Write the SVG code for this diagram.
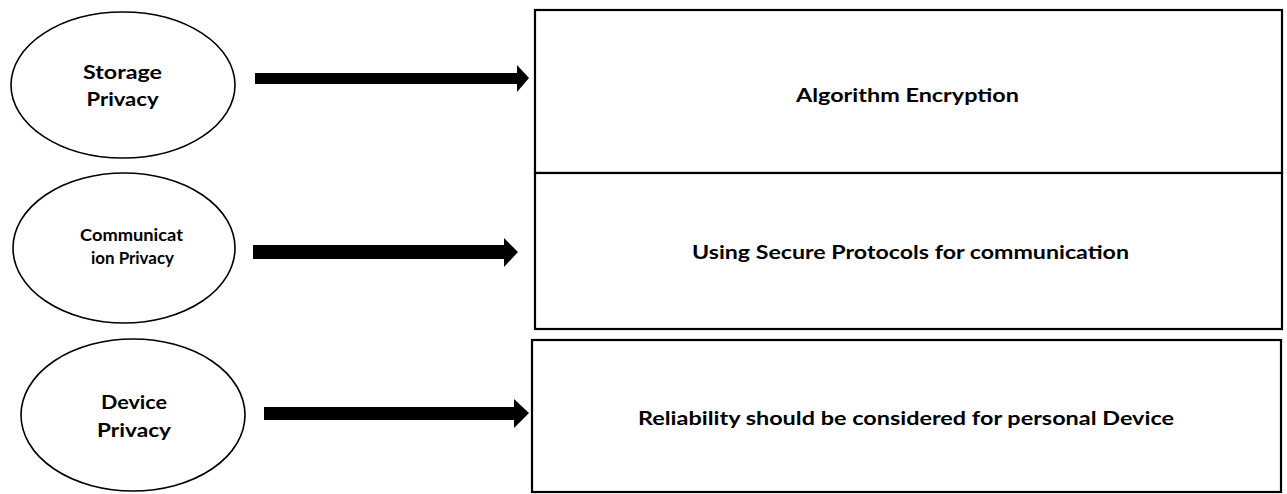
<svg xmlns="http://www.w3.org/2000/svg" width="1287" height="494" viewBox="0 0 1287 494">
<style>
.ell{fill:#fff;stroke:#000;stroke-width:1.6}
.box{fill:#fff;stroke:#000;stroke-width:2.2}
.t{font-family:Lato,"Liberation Sans",sans-serif;font-weight:bold;font-size:19.5px;fill:#000;text-anchor:middle}
.s{font-size:17px}
.arr{fill:#000;stroke:none}
</style>
<rect width="1287" height="494" fill="#fff"/>
<g id="box1"><rect class="box" x="535" y="10" width="747" height="163"/><text class="t" x="907.5" y="102" textLength="223" lengthAdjust="spacingAndGlyphs">Algorithm Encryption</text></g>
<g id="box2"><rect class="box" x="535" y="173" width="747" height="156"/><text class="t" x="910.5" y="259" textLength="437" lengthAdjust="spacingAndGlyphs">Using Secure Protocols for communication</text></g>
<g id="box3"><rect class="box" x="532" y="340" width="749" height="152"/><text class="t" x="906" y="425" textLength="536" lengthAdjust="spacingAndGlyphs">Reliability should be considered for personal Device</text></g>
<g id="storage"><ellipse class="ell" cx="123" cy="85" rx="112" ry="73"/><text class="t" x="122.5" y="79" textLength="79" lengthAdjust="spacingAndGlyphs">Storage</text><text class="t" x="122.5" y="106" textLength="72" lengthAdjust="spacingAndGlyphs">Privacy</text></g>
<g id="communication"><ellipse class="ell" cx="124" cy="248" rx="111" ry="75"/><text class="t s" x="131.5" y="241" textLength="103" lengthAdjust="spacingAndGlyphs">Communicat</text><text class="t s" x="132.5" y="264" textLength="83" lengthAdjust="spacingAndGlyphs">ion Privacy</text></g>
<g id="device"><ellipse class="ell" cx="133" cy="415" rx="112" ry="76"/><text class="t" x="134" y="409" textLength="66" lengthAdjust="spacingAndGlyphs">Device</text><text class="t" x="134" y="437" textLength="74" lengthAdjust="spacingAndGlyphs">Privacy</text></g>
<g id="connectors">
<polygon class="arr" points="255,73 517,73 517,65 529,78 517,92 517,84 255,84"/>
<polygon class="arr" points="253,245 504,245 504,238 518,252 504,267 504,259 253,259"/>
<polygon class="arr" points="264,407 514,407 514,399 529,413 514,428 514,420 264,420"/>
</g>
</svg>
